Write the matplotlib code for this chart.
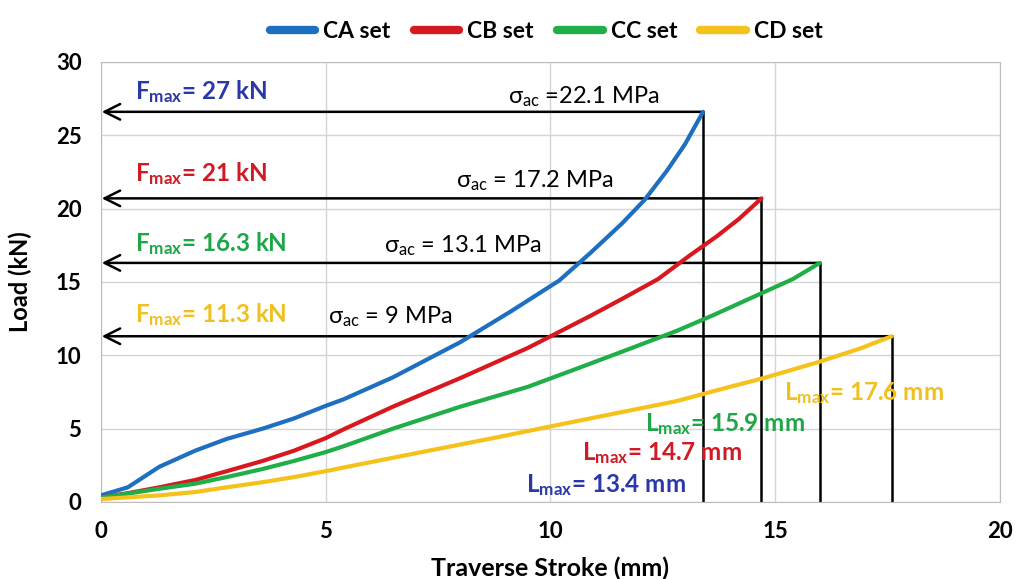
import numpy as np
import matplotlib
matplotlib.use('Agg')
import matplotlib.pyplot as plt
from matplotlib.lines import Line2D

plt.rcParams['font.family'] = ['Lato', 'DejaVu Sans']
plt.rcParams['mathtext.fontset'] = 'custom'
plt.rcParams['mathtext.rm'] = 'Lato'
plt.rcParams['mathtext.it'] = 'Lato'
plt.rcParams['mathtext.bf'] = 'Lato:bold'

# curve data
ca_x = [0, 0.6, 1.3, 2.1, 2.8, 3.6, 4.3, 5.0, 5.4, 6.5, 8.0, 9.1, 10.2, 10.9,
        11.6, 12.1, 12.6, 13.0, 13.4]
ca_y = [0.45, 1.0, 2.4, 3.5, 4.3, 5.0, 5.7, 6.55, 7.0, 8.5, 10.9, 12.95, 15.1, 17.0,
        19.0, 20.6, 22.6, 24.4, 26.6]
cb_x = [0, 0.6, 1.3, 2.1, 2.8, 3.6, 4.3, 5.0, 5.4, 6.5, 8.0, 9.5, 10.2, 10.9,
        11.6, 12.4, 13.1, 13.7, 14.2, 14.7]
cb_y = [0.3, 0.6, 1.0, 1.5, 2.1, 2.8, 3.5, 4.35, 4.95, 6.5, 8.45, 10.5, 11.6, 12.7,
        13.85, 15.2, 16.8, 18.1, 19.3, 20.7]
cc_x = [0, 1.3, 2.1, 2.8, 3.6, 4.3, 5.0, 5.4, 6.5, 8.0, 9.5, 10.6, 11.6, 12.8,
        13.6, 14.75, 15.4, 16.0]
cc_y = [0.3, 0.9, 1.25, 1.7, 2.25, 2.8, 3.4, 3.8, 5.0, 6.5, 7.85, 9.1, 10.25, 11.65,
        12.7, 14.3, 15.2, 16.3]
cd_x = [0, 1.3, 2.1, 2.8, 3.6, 4.3, 5.0, 5.4, 7.3, 8.8, 10.6, 12.8, 13.9, 14.75,
        16.0, 16.9, 17.6]
cd_y = [0.2, 0.45, 0.68, 1.0, 1.35, 1.7, 2.1, 2.35, 3.5, 4.4, 5.52, 6.87, 7.77, 8.45,
        9.57, 10.47, 11.3]

names = ['CA set', 'CB set', 'CC set', 'CD set']
line_colors = ['#1f6fc1', '#d7191f', '#1fae48', '#f4c21a']
text_colors = ['#2a38a8', '#d01a24', '#1fa648', '#f0c020']
fmax = ['27', '21', '16.3', '11.3']
sigma = ['=22.1 MPa', '= 17.2 MPa', '= 13.1 MPa', '= 9 MPa']
lmax = ['13.4', '14.7', '15.9', '17.6']

curves = [(ca_x, ca_y), (cb_x, cb_y), (cc_x, cc_y), (cd_x, cd_y)]

# label placement (data coords)
f_pos = [(0.75, 28.0), (0.75, 22.4), (0.75, 17.6), (0.75, 12.8)]
s_pos = [(9.05, 27.6), (7.9, 21.9), (6.3, 17.5), (5.05, 12.6)]
l_pos = [(9.45, 1.15), (10.7, 3.3), (12.1, 5.3), (15.2, 7.4)]

fig = plt.figure(figsize=(10.19, 5.79), dpi=100)
ax = fig.add_axes([0.099, 0.133, 0.882, 0.76])

for i, (xs, ys) in enumerate(curves):
  xe, ye = xs[-1], ys[-1]
  # vertical drop line and horizontal arrow to the load axis
  ax.plot([xe, xe], [0, ye], color='black', lw=1.8, zorder=2)
  ax.annotate('', xy=(0.02, ye), xytext=(xe, ye),
              arrowprops=dict(arrowstyle='->', lw=1.8, color='black',
                              mutation_scale=28, shrinkA=0, shrinkB=0),
              zorder=2)
  ax.plot(xs, ys, color=line_colors[i], lw=3, solid_capstyle='round',
          solid_joinstyle='round', zorder=3)

  ax.text(f_pos[i][0], f_pos[i][1], r'F$_{\mathbf{max}}$= %s kN' % fmax[i],
          color=text_colors[i], fontsize=17.5, fontweight='bold', va='center')
  ax.text(s_pos[i][0], s_pos[i][1], r'$\sigma_{\mathrm{ac}}$ ' + sigma[i],
          color='black', fontsize=17, va='center')
  ax.text(l_pos[i][0], l_pos[i][1], r'L$_{\mathbf{max}}$= %s mm' % lmax[i],
          color=text_colors[i], fontsize=17.5, fontweight='bold', va='center')

ax.set_xlim(0, 20)
ax.set_ylim(0, 30)
ax.set_xticks(np.arange(0, 21, 5))
ax.set_yticks(np.arange(0, 31, 5))
ax.grid(True, color='#d4d4d4', lw=1)
ax.set_axisbelow(True)
for s in ax.spines.values():
  s.set_color('#bcbcbc')
ax.tick_params(length=0, labelsize=16, pad=14)
for lab in ax.get_xticklabels() + ax.get_yticklabels():
  lab.set_fontweight('bold')

ax.set_xlabel('Traverse Stroke (mm)', fontsize=18, fontweight='bold')
ax.set_ylabel('Load (kN)', fontsize=17, fontweight='bold')
ax.xaxis.set_label_coords(0.5, -0.125)
ax.yaxis.set_label_coords(-0.077, 0.5)

handles = [Line2D([], [], color=c, lw=6, solid_capstyle='round') for c in line_colors]
leg = fig.legend(handles, names, loc='upper center', bbox_to_anchor=(0.536, 1.0),
                 ncol=4, frameon=False, handlelength=2.0, columnspacing=1.0,
                 handletextpad=0.35, prop=dict(size=16.5, weight='bold'))

fig.savefig('out.png', dpi=100)
